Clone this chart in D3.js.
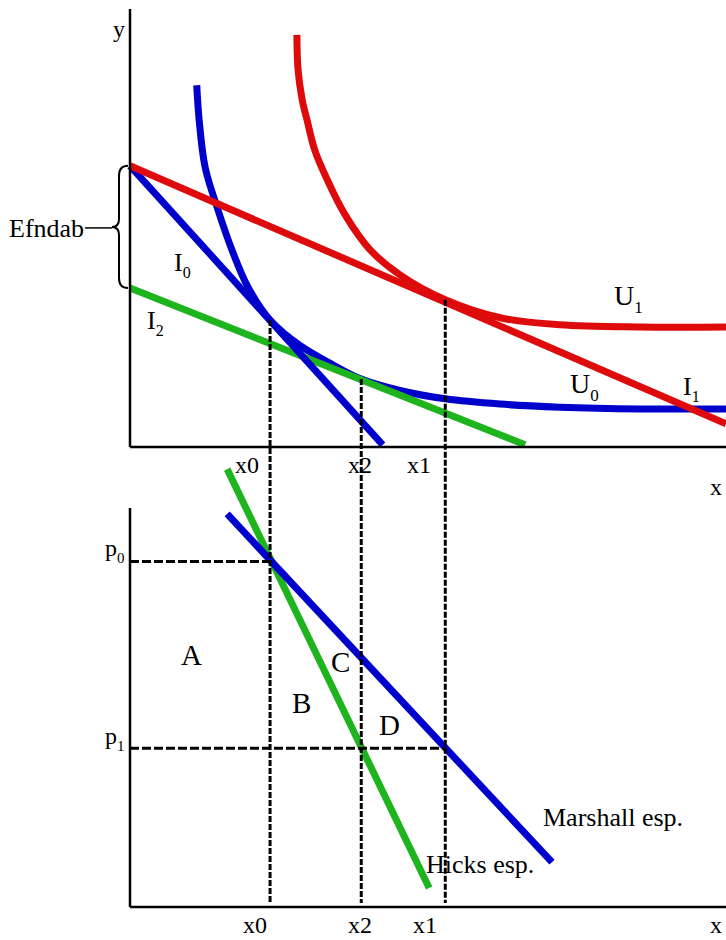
<!DOCTYPE html>
<html><head><meta charset="utf-8">
<script src="https://cdn.jsdelivr.net/npm/d3@7"></script>
<style>
body{margin:0;background:#fff}
text{font-family:"Liberation Serif","Times New Roman",serif;fill:#000}
</style>
</head><body>
<svg id="c" width="726" height="940"></svg>
<script>
// ---------- data (abstract units) ----------
// indifference curve U0 (blue)
const u0X = [11.2, 11.6, 12.6, 14.6, 17.3, 19.8, 23.5, 28.5, 33.6, 38.8, 45.3, 52.9, 62.1, 72.1, 85.6, 100];
const u0Y = [82.6, 74.7, 63.9, 54.8, 44.3, 36.5, 29.0, 23.2, 19.1, 15.5, 12.9, 11.0, 9.8, 9.1, 8.7, 8.7];
// indifference curve U1 (red)
const u1X = [28.0, 28.2, 28.9, 29.7, 31.0, 33.1, 36.1, 40.3, 45.3, 52.9, 62.1, 72.1, 85.6, 100];
const u1Y = [94.1, 86.1, 79.2, 74.7, 67.8, 61.0, 53.0, 45.0, 39.3, 33.6, 29.5, 27.9, 27.4, 27.4];
// budget lines
const i0X = [0, 42.4], i0Y = [64.2, 0.5];
const i1X = [0, 100],  i1Y = [64.2, 5.3];
const i2X = [0, 66.3], i2Y = [36.3, 0.5];
// quantities and tangency heights
const qLabels = ["x0", "x2", "x1"];
const qValues = [23.5, 38.8, 52.9];
const qTangentY = [29.0, 15.5, 33.6];
// prices
const pLabels = ["p0", "p1"];
const pValues = [8.7, 4.0];
const pQuantity = [23.5, 52.9];
// demand curves
const marshallX = [16.3, 70.8], marshallY = [9.9, 1.13];
const hicksX = [16.3, 50.2],    hicksY = [11.03, 0.48];

// ---------- scales ----------
const svg = d3.select("#c");
const x = d3.scaleLinear([0, 100], [130, 726]);
const yT = d3.scaleLinear([0, 100], [447, 9]);
const yB = d3.scaleLinear([0, 10], [907, 510]);

const BLUE = "#0000cc", RED = "#dd0b0b", GREEN = "#1eb41e";
const W = 7;

function drawLine(xs, ys, ysc, color, curve) {
  const pts = xs.map((v, i) => [v, ys[i]]);
  svg.append("path")
    .attr("d", d3.line().x(d => x(d[0])).y(d => ysc(d[1])).curve(curve || d3.curveLinear)(pts))
    .attr("fill", "none").attr("stroke", color).attr("stroke-width", W)
    .attr("stroke-linejoin", "round");
}

// top panel curves
drawLine(u1X, u1Y, yT, RED, d3.curveCatmullRom);
drawLine(u0X, u0Y, yT, BLUE, d3.curveCatmullRom);
drawLine(i2X, i2Y, yT, GREEN);
drawLine(i0X, i0Y, yT, BLUE);
drawLine(i1X, i1Y, yT, RED);

// bottom panel curves
drawLine(hicksX, hicksY, yB, GREEN);
drawLine(marshallX, marshallY, yB, BLUE);

// dashed guides
qValues.forEach((q, i) => {
  svg.append("line")
    .attr("x1", x(q)).attr("x2", x(q))
    .attr("y1", yT(qTangentY[i])).attr("y2", yB(0) - 4)
    .attr("stroke", "#000").attr("stroke-width", 3)
    .attr("stroke-dasharray", "6,2");
});
pValues.forEach((p, i) => {
  svg.append("line")
    .attr("x1", x(0)).attr("x2", x(pQuantity[i]))
    .attr("y1", yB(p)).attr("y2", yB(p))
    .attr("stroke", "#000").attr("stroke-width", 3)
    .attr("stroke-dasharray", "9,3");
});

// axes
const axisG = svg.append("g").attr("stroke", "#000").attr("stroke-width", 2.5);
axisG.append("line").attr("x1", x(0)).attr("x2", x(0)).attr("y1", yT(100)).attr("y2", yT(0));
axisG.append("line").attr("x1", x(0)).attr("x2", x(100)).attr("y1", yT(0)).attr("y2", yT(0));
axisG.append("line").attr("x1", x(0)).attr("x2", x(0)).attr("y1", yB(10.05)).attr("y2", yB(0));
axisG.append("line").attr("x1", x(0)).attr("x2", x(100)).attr("y1", yB(0)).attr("y2", yB(0));

// brace for Efndab
const bx = x(0) - 2, bTop = yT(64.2), bBot = yT(36.3), bMid = (bTop + bBot) / 2;
svg.append("path")
  .attr("d", `M${bx},${bTop} Q${bx-9},${bTop} ${bx-9},${bTop+10} L${bx-9},${bMid-8} Q${bx-9},${bMid} ${bx-16},${bMid} Q${bx-9},${bMid} ${bx-9},${bMid+8} L${bx-9},${bBot-10} Q${bx-9},${bBot} ${bx},${bBot}`)
  .attr("fill", "none").attr("stroke", "#000").attr("stroke-width", 2);
svg.append("line").attr("x1", 85).attr("x2", bx - 16).attr("y1", bMid + 1).attr("y2", bMid + 1)
  .attr("stroke", "#000").attr("stroke-width", 1.5);

// ---------- text ----------
function label(px, py, main, sub, size, subSize) {
  const t = svg.append("text").attr("x", px).attr("y", py).attr("font-size", size);
  t.append("tspan").text(main);
  if (sub !== undefined) {
    t.append("tspan").attr("font-size", subSize || Math.round(size * 0.62)).attr("dy", Math.round(size * 0.28)).text(sub);
  }
  return t;
}

label(113, 37, "y", undefined, 24);
label(710, 495, "x", undefined, 24);
label(710, 933, "x", undefined, 24);
label(9, 237, "Efndab", undefined, 26);
label(174, 271, "I", "0", 26);
label(147, 329, "I", "2", 26);
label(614, 305, "U", "1", 28);
label(570, 393, "U", "0", 28);
label(683, 395, "I", "1", 26);
label(105, 556, "p", "0", 24, 15);
label(105, 744, "p", "1", 24, 15);

const topLabelX = [235, 348, 407];
const botLabelX = [243, 348, 413];
qLabels.forEach((l, i) => {
  label(topLabelX[i], 473, l, undefined, 24);
  label(botLabelX[i], 933, l, undefined, 24);
});

label(181, 665, "A", undefined, 29);
label(292, 713, "B", undefined, 29);
label(331, 672, "C", undefined, 29);
label(379, 735, "D", undefined, 29);
label(543, 826, "Marshall esp.", undefined, 26);
label(426, 873, "Hicks esp.", undefined, 26);
</script>
</body></html>
